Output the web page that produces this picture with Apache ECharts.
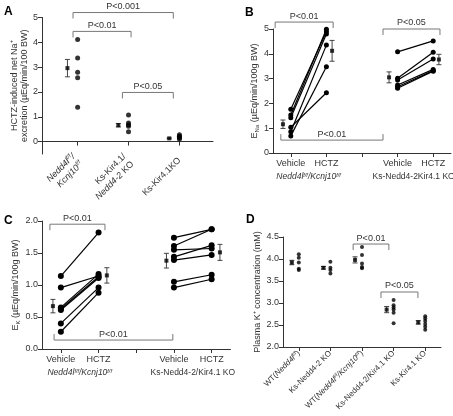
<!DOCTYPE html>
<html><head><meta charset="utf-8">
<script src="https://cdn.jsdelivr.net/npm/echarts@6/dist/echarts.min.js"></script>
<style>html,body{margin:0;padding:0;background:#fff}#c{width:453px;height:416px}</style>
</head><body><div id="c"></div><script>
const FONT = "'Liberation Sans', Arial, sans-serif";

// ---------- Panel A ----------
const aPositions = [1, 2, 3];
const aLabels = ['{i|Nedd4l}{s|f/f}{i|/}\n{i|Kcnj10}{s|f/f}', 'Ks-Kir4.1/\n{i|Nedd4-2} KO', 'Ks-Kir4.1KO'];
const aDots = [[4.11, 3.37, 2.79, 2.57, 1.38], [1.07, 0.75, 0.68, 0.62, 0.40], [0.28, 0.22, 0.18, 0.15, 0.10]];
const aMeans = [2.96, 0.66, 0.13];
const aSE = [0.35, 0.07, 0.02];
const aYTicks = [0, 1, 2, 3, 4, 5];
const aBrackets = [[0.91, 2.88, 5.2, 1, 'P<0.001'], [0.91, 2.05, 4.44, 1, 'P<0.01'], [1.88, 2.88, 1.98, 1, 'P<0.05']];

// ---------- Panel B ----------
const bTickLabels = ['Vehicle', 'HCTZ', '', 'Vehicle', 'HCTZ'];
const bGroups = ['{i|Nedd4l}{s|f/f}{i|/Kcnj10}{s|f/f}', 'Ks-Nedd4-2Kir4.1 KO'];
const bWtVehicle = [1.76, 1.53, 1.42, 1.04, 0.86, 0.69];
const bWtHctz = [4.89, 4.99, 4.80, 2.43, 4.35, 3.48];
const bKoVehicle = [4.08, 3.01, 2.94, 2.74, 2.67, 2.61];
const bKoHctz = [4.52, 4.06, 3.79, 3.37, 3.32, 3.30];
const bMeans = [1.16, 4.12, 3.05, 3.77];
const bSE = [0.17, 0.42, 0.22, 0.21];
const bBrackets = [[0.06, 1.69, 5.28, 1, 'P<0.01'], [3.09, 4.69, 5.0, 1, 'P<0.05'], [0.22, 3.09, 0.52, -1, 'P<0.01']];

// ---------- Panel C ----------
const cTickLabels = ['Vehicle', 'HCTZ', '', 'Vehicle', 'HCTZ'];
const cGroups = ['{i|Nedd4l}{s|f/f}{i|/Kcnj10}{s|f/f}', 'Ks-Nedd4-2/Kir4.1 KO'];
const cWtVehicle = [1.14, 0.96, 0.65, 0.63, 0.61, 0.40, 0.27];
const cWtHctz = [1.82, 1.14, 1.17, 1.13, 1.11, 0.96, 0.88];
const cKoVehicle = [1.74, 1.61, 1.55, 1.44, 1.39, 1.05, 0.96];
const cKoHctz = [1.87, 1.87, 1.57, 1.62, 1.47, 1.16, 1.09];
const cMeans = [0.67, 1.15, 1.38, 1.51];
const cSE = [0.105, 0.12, 0.115, 0.125];
const cBrackets = [[0.21, 1.67, 1.95, 1, 'P<0.01'], [0.32, 3.47, 0.14, -1, 'P<0.01']];

// ---------- Panel D ----------
const dLabels = ['WT({i|Nedd4l}{s|f/f})', 'Ks-Nedd4-2 KO', 'WT({i|Nedd4l}{s|f/f}{i|/Kcnj10}{s|f/f})', 'Ks-Nedd4-2/Kir4.1 KO', 'Ks-Kir4.1 KO'];
const dDots = [[4.11, 4.03, 3.92, 3.78, 3.75], [3.94, 3.80, 3.75, 3.67], [4.27, 4.09, 3.90, 3.82, 3.79],
               [3.07, 2.95, 2.90, 2.85, 2.78, 2.54], [2.70, 2.65, 2.59, 2.52, 2.46, 2.39]];
const dMeans = [3.92, 3.80, 3.98, 2.85, 2.56];
const dSE = [0.05, 0.03, 0.07, 0.07, 0.04];
const dBrackets = [[2.22, 3.35, 4.34, 1, 'P<0.01'], [3.10, 4.27, 3.25, 1, 'P<0.05']];

// ---------- helpers ----------
const AX = '#333';
const richLbl = (fs) => ({
  i: { fontStyle: 'italic', fontSize: fs, fontFamily: FONT, color: AX },
  s: { fontStyle: 'italic', fontSize: fs - 3, fontFamily: FONT, color: AX, verticalAlign: 'top', padding: [0, 0, 4, 0] }
});
function errRender(params, api) {
  const x = api.value(0), m = api.value(1), e = api.value(2);
  const t = api.coord([x, m + e]), b = api.coord([x, m - e]);
  const w = 2.5, st = { stroke: '#444', lineWidth: 1 };
  return { type: 'group', children: [
    { type: 'line', shape: { x1: t[0], y1: t[1], x2: b[0], y2: b[1] }, style: st },
    { type: 'line', shape: { x1: t[0] - w, y1: t[1], x2: t[0] + w, y2: t[1] }, style: st },
    { type: 'line', shape: { x1: b[0] - w, y1: b[1], x2: b[0] + w, y2: b[1] }, style: st }
  ]};
}
function makeBracket(list, xi, yi) {
  return {
    type: 'custom', xAxisIndex: xi, yAxisIndex: yi, clip: false, silent: true,
    data: list.map(r => [r[0], r[1], r[2], r[3]]),
    renderItem(params, api) {
      const x1 = api.value(0), x2 = api.value(1), y = api.value(2), dir = api.value(3);
      const p1 = api.coord([x1, y]), p2 = api.coord([x2, y]);
      const leg = 6 * dir;
      return { type: 'group', children: [
        { type: 'polyline', shape: { points: [[p1[0], p1[1] + leg], [p1[0], p1[1]], [p2[0], p2[1]], [p2[0], p2[1] + leg]] },
          style: { stroke: '#777', fill: null, lineWidth: 1 } },
        { type: 'text', x: (p1[0] + p2[0]) / 2, y: p1[1] - 1.5,
          style: { text: list[params.dataIndex][4], align: 'center', verticalAlign: 'bottom', fontSize: 9, fontFamily: FONT, fill: '#333' } }
      ]};
    }
  };
}
function errSeries(xs, means, se, xi, yi) {
  return [
    { type: 'custom', xAxisIndex: xi, yAxisIndex: yi, clip: false, silent: true,
      data: xs.map((x, k) => [x, means[k], se[k]]), renderItem: errRender, z: 3 },
    { type: 'scatter', xAxisIndex: xi, yAxisIndex: yi, symbol: 'rect', symbolSize: 4, silent: true,
      itemStyle: { color: '#000' }, data: xs.map((x, k) => [x, means[k]]), z: 4 }
  ];
}
function pairSeries(v, h, x0, x1, xi, yi, size) {
  return v.map((val, k) => ({
    type: 'line', xAxisIndex: xi, yAxisIndex: yi, symbol: 'circle', symbolSize: size, silent: true,
    lineStyle: { color: '#000', width: 1.2 }, itemStyle: { color: '#000' },
    data: [[x0, val], [x1, h[k]]], animation: false
  }));
}
function dotSeries(groups, positions, xi, yi, size) {
  const d = [];
  groups.forEach((g, i) => g.forEach(v => d.push([positions[i], v])));
  return { type: 'scatter', xAxisIndex: xi, yAxisIndex: yi, symbol: 'circle', symbolSize: size, silent: true,
    itemStyle: { color: '#000' }, data: d };
}
const axLine = { show: true, lineStyle: { color: AX, width: 1 } };
const axTick = (vals) => ({ show: true, length: 4, lineStyle: { color: AX }, customValues: vals });
function yAx(gi, min, max, vals, fmt, name, gap) {
  return { type: 'value', gridIndex: gi, min, max, splitLine: { show: false }, axisLine: axLine,
    axisTick: axTick(vals),
    axisLabel: { customValues: vals, formatter: fmt, fontSize: 9, color: AX, fontFamily: FONT, margin: 4 },
    name, nameLocation: 'middle', nameRotate: 90, nameGap: gap,
    nameTextStyle: { fontSize: 9, color: AX, fontFamily: FONT, lineHeight: 10,
      rich: { sub: { fontSize: 6, fontFamily: FONT, color: AX, verticalAlign: 'bottom' }, n: { fontSize: 9, fontFamily: FONT, color: AX } } } };
}

const chart = echarts.init(document.getElementById('c'), null, { renderer: 'canvas' });
const dPos = [0.5, 1.5, 2.5, 3.5, 4.5];
const option = {
  animation: false,
  textStyle: { fontFamily: FONT },
  grid: [
    { left: 42, top: 17.5, width: 171, height: 136.5, outerBoundsMode: 'none' },
    { left: 273, top: 29, width: 178, height: 124, outerBoundsMode: 'none' },
    { left: 42, top: 221, width: 188.5, height: 128, outerBoundsMode: 'none' },
    { left: 283, top: 237, width: 158, height: 110, outerBoundsMode: 'none' }
  ],
  xAxis: [
    { type: 'value', gridIndex: 0, min: 0.3, max: 3.66, splitLine: { show: false }, axisLine: axLine,
      axisTick: axTick(aPositions),
      axisLabel: { customValues: aPositions, rotate: 45, fontSize: 9, color: AX, fontFamily: FONT, margin: 5, lineHeight: 11,
        formatter: v => aLabels[aPositions.indexOf(Math.round(v))], rich: richLbl(9) } },
    { type: 'value', gridIndex: 1, min: 0, max: 5, splitLine: { show: false }, axisLine: axLine,
      axisTick: axTick(dPos),
      axisLabel: { customValues: [0.5, 1.5, 3.5, 4.5], fontSize: 9, color: AX, fontFamily: FONT, margin: 6,
        formatter: v => bTickLabels[Math.floor(v)] } },
    { type: 'value', gridIndex: 1, position: 'bottom', min: 0, max: 5, splitLine: { show: false },
      axisLine: { show: false }, axisTick: { show: false },
      axisLabel: { customValues: [1, 3.95], fontSize: 8.5, color: AX, fontFamily: FONT, margin: 19,
        formatter: v => bGroups[v < 2 ? 0 : 1], rich: richLbl(8.5) } },
    { type: 'value', gridIndex: 2, min: 0, max: 5, splitLine: { show: false }, axisLine: axLine,
      axisTick: axTick(dPos),
      axisLabel: { customValues: [0.5, 1.5, 3.5, 4.5], fontSize: 9, color: AX, fontFamily: FONT, margin: 6,
        formatter: v => cTickLabels[Math.floor(v)] } },
    { type: 'value', gridIndex: 2, position: 'bottom', min: 0, max: 5, splitLine: { show: false },
      axisLine: { show: false }, axisTick: { show: false },
      axisLabel: { customValues: [1, 4], fontSize: 8.5, color: AX, fontFamily: FONT, margin: 19,
        formatter: v => cGroups[v < 2 ? 0 : 1], rich: richLbl(8.5) } },
    { type: 'value', gridIndex: 3, min: 0, max: 5, splitLine: { show: false }, axisLine: axLine,
      axisTick: axTick(dPos),
      axisLabel: { customValues: dPos, rotate: 45, fontSize: 8, color: AX, fontFamily: FONT, margin: 5,
        formatter: v => dLabels[Math.floor(v)], rich: richLbl(8) } }
  ],
  yAxis: [
    yAx(0, -0.5, 5, aYTicks, v => String(v), 'HCTZ-induced net Na\u207A\nexcretion (\u00B5Eq/min/100 BW)', 9),
    yAx(1, 0, 5, [0, 1, 2, 3, 4, 5], v => String(v), '{n|E}{sub|Na}{n| (\u00B5Eq/min/100g BW)}', 13),
    yAx(2, 0, 2, [0, 0.5, 1, 1.5, 2], v => v.toFixed(1), '{n|E}{sub|K}{n| (\u00B5Eq/min/100g BW)}', 21),
    yAx(3, 2, 4.5, [2, 2.5, 3, 3.5, 4, 4.5], v => v.toFixed(1), 'Plasma K\u207A concentration (mM)', 20)
  ],
  graphic: [
    { type: 'text', left: 4, top: 6, style: { text: 'A', font: 'bold 12px ' + FONT, fill: '#000' } },
    { type: 'text', left: 245, top: 7, style: { text: 'B', font: 'bold 12px ' + FONT, fill: '#000' } },
    { type: 'text', left: 4, top: 215, style: { text: 'C', font: 'bold 12px ' + FONT, fill: '#000' } },
    { type: 'text', left: 246, top: 214, style: { text: 'D', font: 'bold 12px ' + FONT, fill: '#000' } }
  ],
  series: [
    dotSeries(aDots, aPositions, 0, 0, 5),
    ...errSeries(aPositions.map(p => p - 0.2), aMeans, aSE, 0, 0),
    makeBracket(aBrackets, 0, 0),

    ...pairSeries(bWtVehicle, bWtHctz, 0.5, 1.5, 1, 1, 5),
    ...pairSeries(bKoVehicle, bKoHctz, 3.5, 4.5, 1, 1, 5),
    ...errSeries([0.28, 1.66, 3.26, 4.66], bMeans, bSE, 1, 1),
    makeBracket(bBrackets, 1, 1),

    ...pairSeries(cWtVehicle, cWtHctz, 0.5, 1.5, 3, 2, 6),
    ...pairSeries(cKoVehicle, cKoHctz, 3.5, 4.5, 3, 2, 6),
    ...errSeries([0.29, 1.72, 3.3, 4.72], cMeans, cSE, 3, 2),
    makeBracket(cBrackets, 3, 2),

    dotSeries(dDots, dPos, 5, 3, 4),
    ...errSeries(dPos.map(p => p - 0.22), dMeans, dSE, 5, 3),
    makeBracket(dBrackets, 5, 3)
  ]
};
chart.setOption(option);
</script></body></html>
